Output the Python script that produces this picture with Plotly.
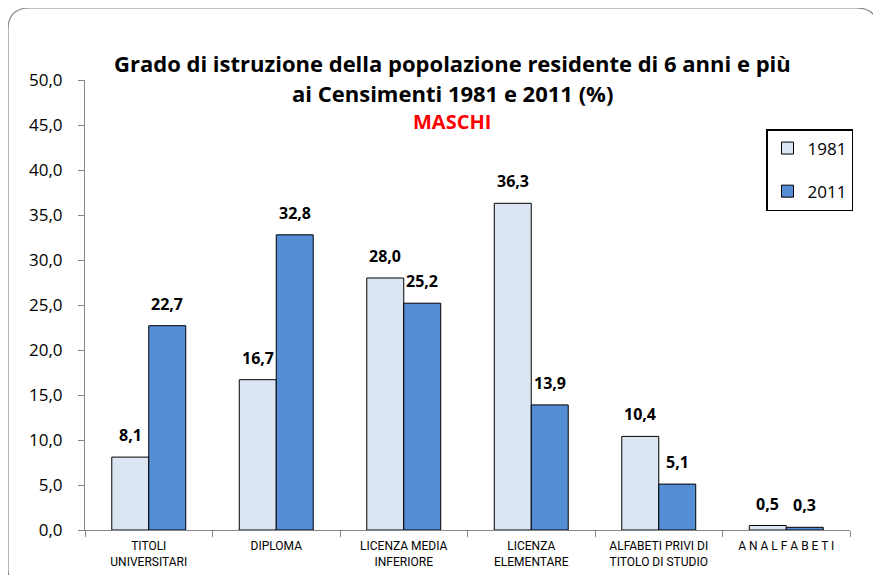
import plotly.graph_objects as go

categories = ["TITOLI<br>UNIVERSITARI", "DIPLOMA", "LICENZA MEDIA<br>INFERIORE",
              "LICENZA<br>ELEMENTARE", "ALFABETI PRIVI DI<br>TITOLO DI STUDIO", "A N A L F A B E T I"]
v1981 = [8.1, 16.7, 28.0, 36.3, 10.4, 0.5]
v2011 = [22.7, 32.8, 25.2, 13.9, 5.1, 0.3]
yticks = [0, 5, 10, 15, 20, 25, 30, 35, 40, 45, 50]

OFF = 8  # page body margin
W, H = 881 - OFF, 575 - OFF
L, R, T, B = 85 - OFF, 31, 80 - OFF, 45
pw, ph = W - L - R, H - T - B
BARGAP = 0.42
barw = pw / len(categories) * (1 - BARGAP) / 2

def fmt(v):
    return f"{v:.1f}".replace(".", ",")

lblfont = dict(family="Open Sans", size=16, color="black", weight="bold")
fig = go.Figure()
fig.add_trace(go.Bar(name="1981", x=categories, y=v1981, legendgroup="a",
                     marker=dict(color="#dce6f2", line=dict(color="black", width=1))))
fig.add_trace(go.Bar(name="2011", x=categories, y=v2011, legendgroup="b",
                     marker=dict(color="#558ed5", line=dict(color="black", width=1))))

for vals, sh in ((v1981, -barw / 2), (v2011, barw / 2)):
    for c, v in zip(categories, vals):
        fig.add_annotation(x=c, y=v, text=fmt(v), showarrow=False, xshift=sh,
                           yanchor="bottom", yshift=9, font=lblfont)

def px_x(x):
    return (x - OFF - L) / pw

def px_y(y):
    return (H - B - (y - OFF)) / ph

# rounded outer border in paper coords (screen pixel coords)
x0, y0, x1, y1, r = 8, 8, 878, 590, 22
path = (f"M {px_x(x0+r)} {px_y(y0)} L {px_x(x1-r)} {px_y(y0)} "
        f"Q {px_x(x1)} {px_y(y0)} {px_x(x1)} {px_y(y0+r)} "
        f"L {px_x(x1)} {px_y(y1-r)} Q {px_x(x1)} {px_y(y1)} {px_x(x1-r)} {px_y(y1)} "
        f"L {px_x(x0+r)} {px_y(y1)} Q {px_x(x0)} {px_y(y1)} {px_x(x0)} {px_y(y1-r)} "
        f"L {px_x(x0)} {px_y(y0+r)} Q {px_x(x0)} {px_y(y0)} {px_x(x0+r)} {px_y(y0)} Z")
fig.add_shape(type="path", path=path, xref="paper", yref="paper",
              line=dict(color="#868686", width=1.2), layer="below")

fig.add_annotation(text="<b>Grado di istruzione della popolazione residente di 6 anni e più</b>",
                   x=px_x(452), y=px_y(46), xref="paper", yref="paper", showarrow=False,
                   font=dict(family="Open Sans", size=22, color="black"))
fig.add_annotation(text="<b>ai Censimenti 1981 e 2011 (%)</b>",
                   x=px_x(452), y=px_y(76), xref="paper", yref="paper", showarrow=False,
                   font=dict(family="Open Sans", size=22, color="black"))
fig.add_annotation(text="<b>MASCHI</b>",
                   x=px_x(452), y=px_y(106), xref="paper", yref="paper", showarrow=False,
                   font=dict(family="Open Sans", size=20, color="#ff0000"))

fig.update_layout(
    width=W, height=H,
    margin=dict(l=L, r=R, t=T, b=B),
    paper_bgcolor="white", plot_bgcolor="white",
    barmode="group", bargap=BARGAP, bargroupgap=0,
    showlegend=True,
    legend=dict(x=px_x(766), y=px_y(129), xanchor="left", yanchor="top",
                bordercolor="black", borderwidth=1.5, bgcolor="white",
                font=dict(family="Open Sans", size=17, color="black"),
                itemwidth=30, tracegroupgap=18),
    xaxis=dict(showline=True, linecolor="#868686", ticks="outside", tickcolor="#868686",
               ticklen=6, tickson="boundaries", ticklabelstandoff=5, automargin=False,
               tickfont=dict(family="Roboto", size=12, color="black")),
    yaxis=dict(range=[0, 50], tickvals=yticks, ticktext=[fmt(v) for v in yticks],
               showline=True, linecolor="#868686", ticks="outside", tickcolor="#868686",
               ticklen=6, showgrid=False, zeroline=False, ticklabelstandoff=12,
               automargin=False,
               tickfont=dict(family="Open Sans", size=17, color="black")),
)

fig.write_html("out.html")
